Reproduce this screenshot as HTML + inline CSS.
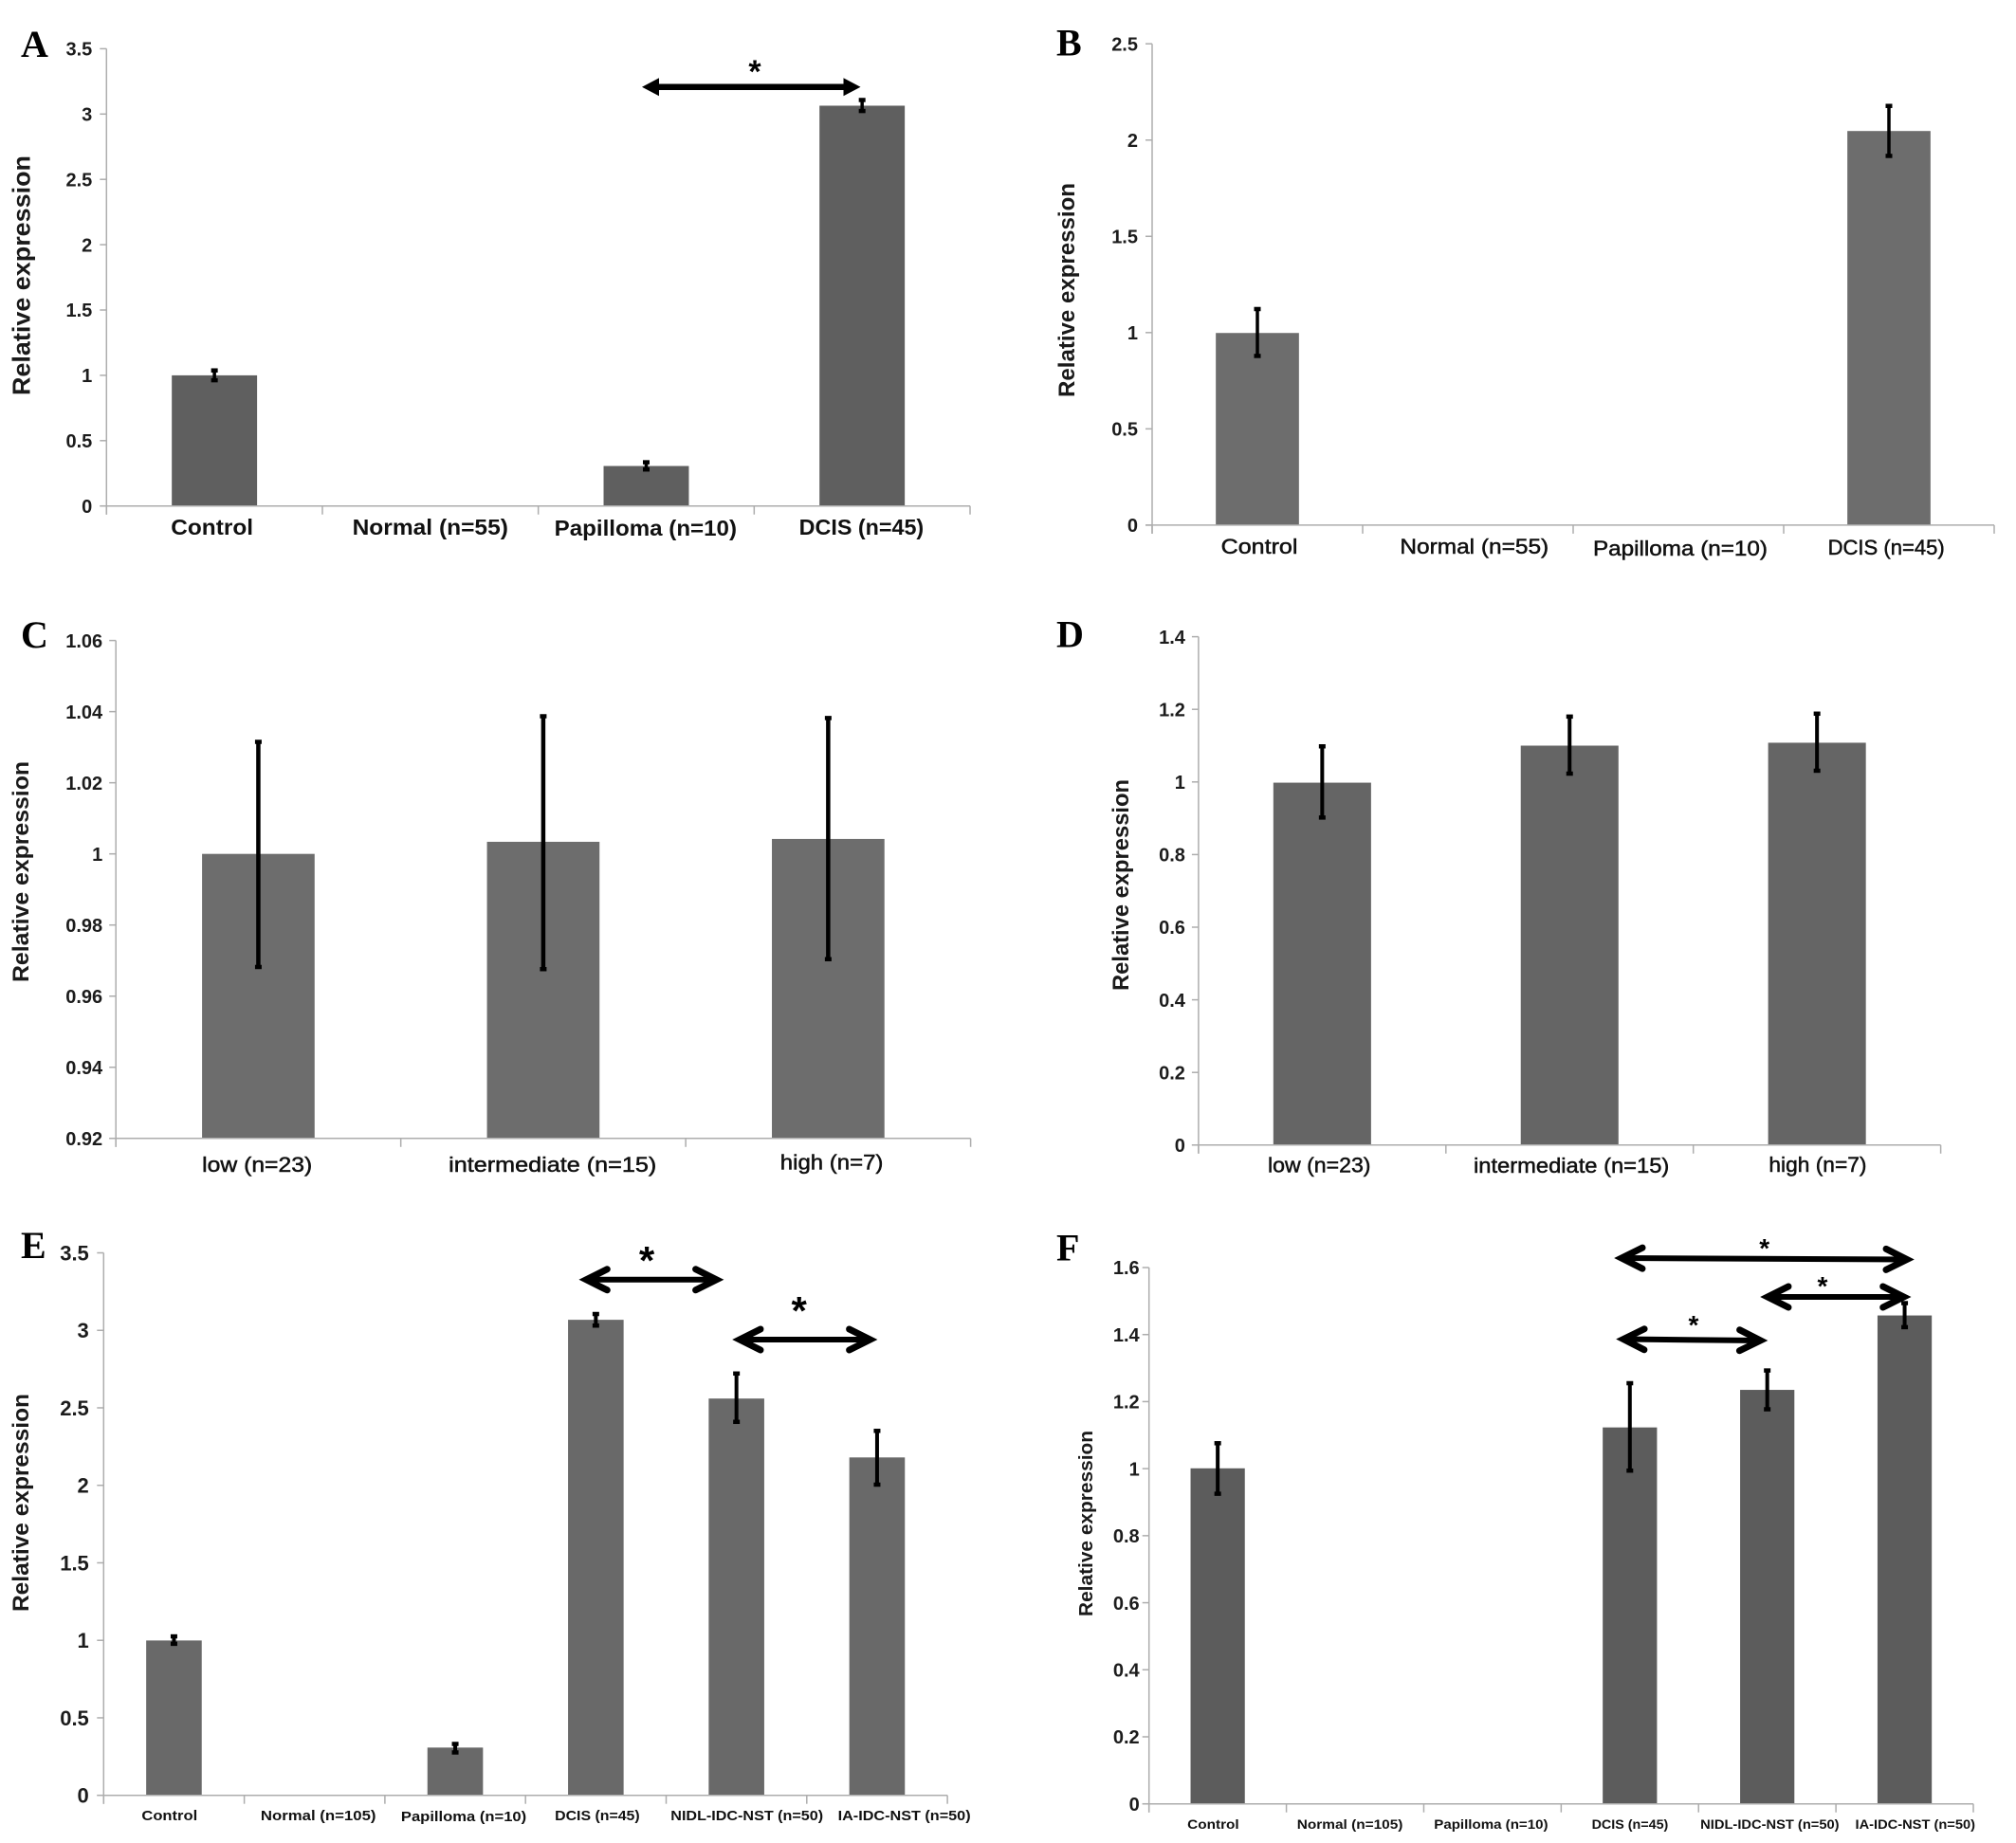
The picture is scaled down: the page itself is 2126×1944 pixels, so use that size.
<!DOCTYPE html>
<html lang="en">
<head>
<meta charset="utf-8">
<title>Relative expression bar charts, panels A to F</title>
<style>
html,body{margin:0;padding:0;background:#fff;}
svg{display:block;}
text{font-family:"Liberation Sans",sans-serif;}
</style>
</head>
<body>
<svg id="figure" xmlns="http://www.w3.org/2000/svg" width="2126" height="1944" viewBox="0 0 2126 1944"></svg>
<script>
// ---- Panel A data ----
const categoriesA = ["Control", "Normal (n=55)", "Papilloma (n=10)", "DCIS (n=45)"];
const valuesA = [1.0, null, 0.306, 3.064];
const errHighA = [1.043, null, 0.34, 3.113];
const errLowA = [0.957, null, 0.274, 3.018];
const yTicksA = [0, 0.5, 1, 1.5, 2, 2.5, 3, 3.5];

// ---- Panel B data ----
const categoriesB = ["Control", "Normal (n=55)", "Papilloma (n=10)", "DCIS (n=45)"];
const valuesB = [0.998, null, null, 2.047];
const errHighB = [1.126, null, null, 2.181];
const errLowB = [0.875, null, null, 1.914];
const yTicksB = [0, 0.5, 1, 1.5, 2, 2.5];

// ---- Panel C data ----
const categoriesC = ["low (n=23)", "intermediate (n=15)", "high (n=7)"];
const valuesC = [1.0, 1.0034, 1.0042];
const errHighC = [1.0317, 1.0389, 1.0384];
const errLowC = [0.968, 0.9674, 0.9702];
const yTicksC = [0.92, 0.94, 0.96, 0.98, 1, 1.02, 1.04, 1.06];

// ---- Panel D data ----
const categoriesD = ["low (n=23)", "intermediate (n=15)", "high (n=7)"];
const valuesD = [0.998, 1.1, 1.108];
const errHighD = [1.1, 1.182, 1.19];
const errLowD = [0.9, 1.021, 1.029];
const yTicksD = [0, 0.2, 0.4, 0.6, 0.8, 1, 1.2, 1.4];

// ---- Panel E data ----
const categoriesE = ["Control", "Normal (n=105)", "Papilloma (n=10)", "DCIS (n=45)", "NIDL-IDC-NST (n=50)", "IA-IDC-NST (n=50)"];
const valuesE = [0.999, null, 0.308, 3.068, 2.56, 2.18];
const errHighE = [1.03, null, 0.336, 3.11, 2.726, 2.356];
const errLowE = [0.973, null, 0.272, 3.026, 2.405, 2.0];
const yTicksE = [0, 0.5, 1, 1.5, 2, 2.5, 3, 3.5];

// ---- Panel F data ----
const categoriesF = ["Control", "Normal (n=105)", "Papilloma (n=10)", "DCIS (n=45)", "NIDL-IDC-NST (n=50)", "IA-IDC-NST (n=50)"];
const valuesF = [1.001, null, null, 1.123, 1.235, 1.457];
const errHighF = [1.078, null, null, 1.257, 1.295, 1.496];
const errLowF = [0.923, null, null, 0.992, 1.175, 1.42];
const yTicksF = [0, 0.2, 0.4, 0.6, 0.8, 1, 1.2, 1.4, 1.6];

// ---- Layout of each panel (pixels, colours, annotation placement) ----
const panels = [
  {id:"a", letter:"A", letterX:22, letterY:60, cats:categoriesA, vals:valuesA, hi:errHighA, lo:errLowA, ticks:yTicksA,
   left:112.3, right:1023, top:51.4, bottom:533.7, color:"#5f5f5f", tickGap:15, tickSize:20, labelSize:23, labelWeight:"700",
   labelBoxes:[[180.3,267,564],[371.6,535.9,564],[584.7,777,565],[842.7,974.2,564]],
   titleX:31.5, titleTop:164, titleBottom:417, titleSize:26, stem:3.5,
   arrows:[{x1:677,y1:91.7,x2:907.5,y2:91.7,style:"solid"}], stars:[{x:796,y:75,size:34}]},
  {id:"b", letter:"B", letterX:1114, letterY:58.5, cats:categoriesB, vals:valuesB, hi:errHighB, lo:errLowB, ticks:yTicksB,
   left:1215, right:2103, top:46.2, bottom:553.9, color:"#6d6d6d", tickGap:15, tickSize:20, labelSize:22, labelWeight:"400",
   labelBoxes:[[1287.7,1368.4,584],[1476.4,1633.2,584],[1680,1864,586],[1927.6,2050.7,585]],
   titleX:1133, titleTop:193, titleBottom:419, titleSize:24, stem:3.5, arrows:[], stars:[]},
  {id:"c", letter:"C", letterX:22, letterY:683, cats:categoriesC, vals:valuesC, hi:errHighC, lo:errLowC, ticks:yTicksC,
   left:122.2, right:1023.6, top:675.6, bottom:1200.8, color:"#6d6d6d", tickGap:14, tickSize:20, labelSize:22, labelWeight:"400",
   labelBoxes:[[213.2,329.2,1236],[473.2,692.3,1236],[822.8,931.4,1233.5]],
   titleX:30, titleTop:803, titleBottom:1036, titleSize:24, stem:4.5, arrows:[], stars:[]},
  {id:"d", letter:"D", letterX:1114, letterY:682.7, cats:categoriesD, vals:valuesD, hi:errHighD, lo:errLowD, ticks:yTicksD,
   left:1263.9, right:2046.6, top:671.6, bottom:1207.8, color:"#656565", tickGap:14, tickSize:20, labelSize:22, labelWeight:"400",
   labelBoxes:[[1337,1445.5,1236.6],[1554,1760.3,1237],[1865.4,1968.5,1236]],
   titleX:1190, titleTop:822, titleBottom:1045, titleSize:24, stem:4, arrows:[], stars:[]},
  {id:"e", letter:"E", letterX:22, letterY:1327, cats:categoriesE, vals:valuesE, hi:errHighE, lo:errLowE, ticks:yTicksE,
   left:109.3, right:999.1, top:1321.5, bottom:1893.7, color:"#696969", tickGap:15.5, tickSize:22, labelSize:15, labelWeight:"700",
   labelBoxes:[[149.4,208.2,1920],[274.9,396.5,1920],[422.9,555.2,1921],[585.1,674.7,1920],[707.3,868.1,1920],[883.6,1023.6,1920]],
   titleX:30, titleTop:1470, titleBottom:1700, titleSize:24, stem:4,
   arrows:[{x1:614.3,y1:1349.8,x2:759.6,y2:1349.8,style:"open"},{x1:776,y1:1413,x2:921.6,y2:1413,style:"open"}],
   stars:[{x:682,y:1329,size:42},{x:842.7,y:1382,size:42}]},
  {id:"f", letter:"F", letterX:1114, letterY:1329.5, cats:categoriesF, vals:valuesF, hi:errHighF, lo:errLowF, ticks:yTicksF,
   left:1211.7, right:2081, top:1337, bottom:1902.7, color:"#5c5c5c", tickGap:10, tickSize:20, labelSize:14, labelWeight:"700",
   labelBoxes:[[1252.2,1306.7,1929],[1367.8,1479.4,1929],[1512.3,1632.5,1929],[1678.6,1759.3,1929],[1793.2,1939.6,1929],[1956.5,2083,1929]],
   titleX:1152, titleTop:1509, titleBottom:1705, titleSize:20.5, stem:4,
   arrows:[{x1:1706,y1:1327,x2:2015,y2:1328.5,style:"open"},{x1:1860,y1:1368,x2:2011.7,y2:1368,style:"open"},{x1:1708,y1:1412.5,x2:1860.5,y2:1414,style:"open"}],
   stars:[{x:1860.7,y:1316,size:28},{x:1922,y:1356,size:28},{x:1786,y:1397,size:28}]}
];

const NS = "http://www.w3.org/2000/svg";
const root = document.getElementById("figure");
function make(parent, tag, attrs){
  const el = document.createElementNS(NS, tag);
  for (const k in attrs) el.setAttribute(k, attrs[k]);
  parent.appendChild(el);
  return el;
}

function drawArrow(g, a, name){
  const dx = a.x2 - a.x1, dy = a.y2 - a.y1, len = Math.hypot(dx, dy);
  const ux = dx / len, uy = dy / len, nx = -uy, ny = ux;
  const arrow = make(g, "g", {});
  
  
  if (a.style === "solid"){
    const depth = 18, half = 9.5;
    make(arrow, "line", {x1:a.x1+ux*depth, y1:a.y1+uy*depth, x2:a.x2-ux*depth, y2:a.y2-uy*depth, stroke:"#000", "stroke-width":6.5});
    make(arrow, "polygon", {fill:"#000", points:[a.x1,a.y1, a.x1+ux*depth+nx*half,a.y1+uy*depth+ny*half, a.x1+ux*depth-nx*half,a.y1+uy*depth-ny*half].join(" ")});
    make(arrow, "polygon", {fill:"#000", points:[a.x2,a.y2, a.x2-ux*depth+nx*half,a.y2-uy*depth+ny*half, a.x2-ux*depth-nx*half,a.y2-uy*depth-ny*half].join(" ")});
  } else {
    const depth = 22, half = 11, inset = 4;
    const sx = a.x1 + ux*inset, sy = a.y1 + uy*inset, ex = a.x2 - ux*inset, ey = a.y2 - uy*inset;
    make(arrow, "line", {x1:sx, y1:sy, x2:ex, y2:ey, stroke:"#000", "stroke-width":6});
    make(arrow, "polyline", {fill:"none", stroke:"#000", "stroke-width":7, "stroke-linecap":"round", "stroke-linejoin":"miter",
      points:[sx+ux*depth+nx*half,sy+uy*depth+ny*half, sx,sy, sx+ux*depth-nx*half,sy+uy*depth-ny*half].join(" ")});
    make(arrow, "polyline", {fill:"none", stroke:"#000", "stroke-width":7, "stroke-linecap":"round", "stroke-linejoin":"miter",
      points:[ex-ux*depth+nx*half,ey-uy*depth+ny*half, ex,ey, ex-ux*depth-nx*half,ey-uy*depth-ny*half].join(" ")});
  }
}

panels.forEach(function(p){
  const g = make(root, "g", {});
  
  

  const yMin = p.ticks[0], yMax = p.ticks[p.ticks.length - 1];
  const yScale = function(v){ return p.bottom - (v - yMin) / (yMax - yMin) * (p.bottom - p.top); };
  const band = (p.right - p.left) / p.cats.length;
  const xCenter = function(i){ return p.left + band * (i + 0.5); };
  const barWidth = band * 0.395;

  const letter = make(g, "text", {x:p.letterX, y:p.letterY, "font-size":40, "font-weight":700, fill:"#000", style:'font-family:"Liberation Serif",serif'});
  letter.textContent = p.letter;
  
  

  // bars first so the axis line sits over their base
  p.vals.forEach(function(v, i){
    if (v === null) return;
    const bar = make(g, "rect", {x:xCenter(i) - barWidth / 2, y:yScale(v), width:barWidth, height:p.bottom - yScale(v), fill:p.color});
    
    
  });

  // axes
  const yAxis = make(g, "line", {x1:p.left, y1:p.top, x2:p.left, y2:p.bottom + 9, stroke:"#adadad", "stroke-width":1.5});
  
  
  const xAxis = make(g, "line", {x1:p.left - 7, y1:p.bottom, x2:p.right, y2:p.bottom, stroke:"#adadad", "stroke-width":1.5});
  
  

  // y ticks and labels
  p.ticks.forEach(function(t){
    const y = yScale(t);
    const mark = make(g, "line", {x1:p.left - 7, y1:y, x2:p.left, y2:y, stroke:"#adadad", "stroke-width":1.5});
    
    
    const label = make(g, "text", {x:p.left - p.tickGap, y:y + p.tickSize * 0.36, "text-anchor":"end", "font-size":p.tickSize, "font-weight":700, fill:"#1c1c1c"});
    label.textContent = String(t);
    
    
  });

  // x ticks and category labels
  for (let i = 0; i <= p.cats.length; i++){
    const x = p.left + band * i;
    const mark = make(g, "line", {x1:x, y1:p.bottom, x2:x, y2:p.bottom + 9, stroke:"#adadad", "stroke-width":1.5});
    
    
  }
  p.cats.forEach(function(c, i){
    const box = p.labelBoxes[i];
    const label = make(g, "text", {x:box[0], y:box[2], textLength:box[1] - box[0], lengthAdjust:"spacingAndGlyphs",
      "font-size":p.labelSize, "font-weight":p.labelWeight, fill:"#111",
      stroke:p.labelWeight === "400" ? "#111" : "none", "stroke-width":p.labelWeight === "400" ? 0.5 : 0});
    label.textContent = c;
    
    
  });

  // y-axis title
  const title = make(g, "text", {transform:"translate(" + p.titleX + "," + p.titleBottom + ") rotate(-90)", x:0, y:0,
    textLength:p.titleBottom - p.titleTop, lengthAdjust:"spacingAndGlyphs", "font-size":p.titleSize, "font-weight":700, fill:"#1a1a1a"});
  title.textContent = "Relative expression";
  
  

  // error bars
  p.vals.forEach(function(v, i){
    if (v === null) return;
    const x = xCenter(i), yHi = yScale(p.hi[i]), yLo = yScale(p.lo[i]);
    const err = make(g, "g", {});
    
    
    make(err, "line", {x1:x, y1:yHi, x2:x, y2:yLo, stroke:"#000", "stroke-width":p.stem});
    make(err, "rect", {x:x - 3.5, y:yHi - 1.5, width:7, height:4.5, fill:"#000"});
    make(err, "rect", {x:x - 3.5, y:yLo - 3, width:7, height:4.5, fill:"#000"});
  });

  // significance annotations
  p.arrows.forEach(function(a, i){
    drawArrow(g, a, "significance-arrow-" + (i + 1));
  });
  p.stars.forEach(function(s){
    const star = make(g, "text", {x:s.x, y:s.y + s.size * 0.36, "text-anchor":"middle", "font-size":s.size, fill:"#000", "font-weight":700});
    star.textContent = "*";
    
    
  });
});
</script>
</body>
</html>
